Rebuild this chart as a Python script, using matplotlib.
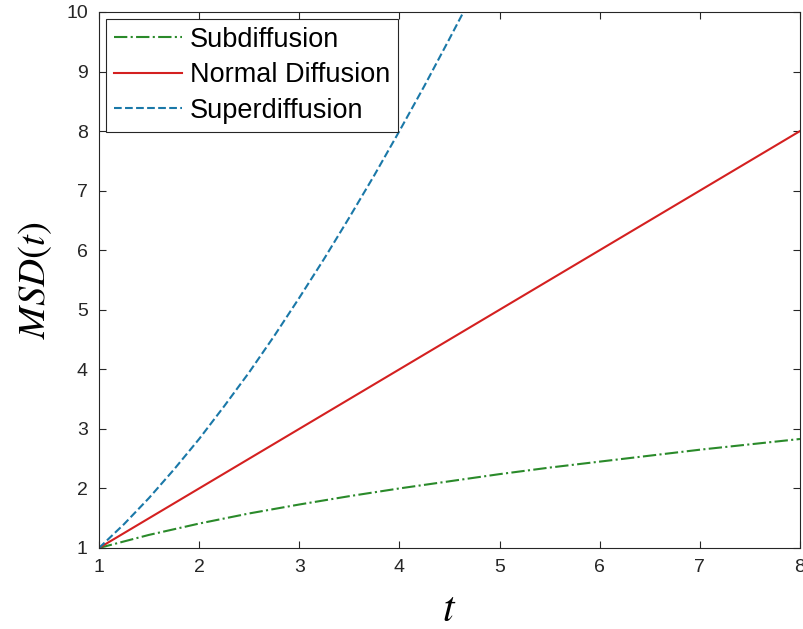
import matplotlib
matplotlib.use("Agg")
import matplotlib.pyplot as plt

plt.rcParams['font.family'] = ['Liberation Sans', 'DejaVu Sans']
plt.rcParams['mathtext.fontset'] = 'stix'

# values
t_sub = [1.0, 1.5, 2.0, 2.5, 3.0, 3.5, 4.0, 4.5, 5.0, 5.5, 6.0, 6.5, 7.0, 7.5, 8.0]
msd_sub = [1.0, 1.22, 1.41, 1.58, 1.73, 1.87, 2.0, 2.12, 2.24, 2.35, 2.45, 2.55, 2.65, 2.74, 2.83]

t_norm = [1.0, 8.0]
msd_norm = [1.0, 8.0]

t_super = [1.0, 1.25, 1.5, 1.75, 2.0, 2.25, 2.5, 2.75, 3.0, 3.25, 3.5, 3.75, 4.0, 4.25, 4.5, 4.64]
msd_super = [1.0, 1.40, 1.84, 2.32, 2.83, 3.38, 3.95, 4.56, 5.20, 5.86, 6.55, 7.26, 8.0, 8.76, 9.55, 10.0]

fig = plt.figure(figsize=(8.04, 6.29), dpi=100)
ax = fig.add_axes([0.1231, 0.1288, 0.8719, 0.8522])

ax.plot(t_sub, msd_sub, '-.', color='#2a8a2a', lw=1.5, label='Subdiffusion')
ax.plot(t_norm, msd_norm, '-', color='#d42020', lw=1.5, label='Normal Diffusion')
ax.plot(t_super, msd_super, '--', color='#1a78a8', lw=1.5, label='Superdiffusion')

ax.set_xlim(1, 8)
ax.set_ylim(1, 10)
ax.set_xticks(range(1, 9))
ax.set_yticks(range(1, 11))
ax.tick_params(direction='in', top=True, right=True, labelsize=14, colors='#262626',
               length=5, pad=8)
for s in ax.spines.values():
    s.set_color('#262626')
    s.set_linewidth(0.8)

ax.set_xlabel(r'$t$', fontsize=30, labelpad=10)
ax.set_ylabel(r'$MSD(t)$', fontsize=28, labelpad=9)

leg = ax.legend(loc='upper left', fontsize=19.5, fancybox=False, framealpha=1,
                edgecolor='#262626', borderaxespad=0.25, handlelength=2.5,
                handletextpad=0.3, borderpad=0.3, labelspacing=0.35)
leg.get_frame().set_linewidth(0.8)

fig.savefig('out.png', dpi=100)
